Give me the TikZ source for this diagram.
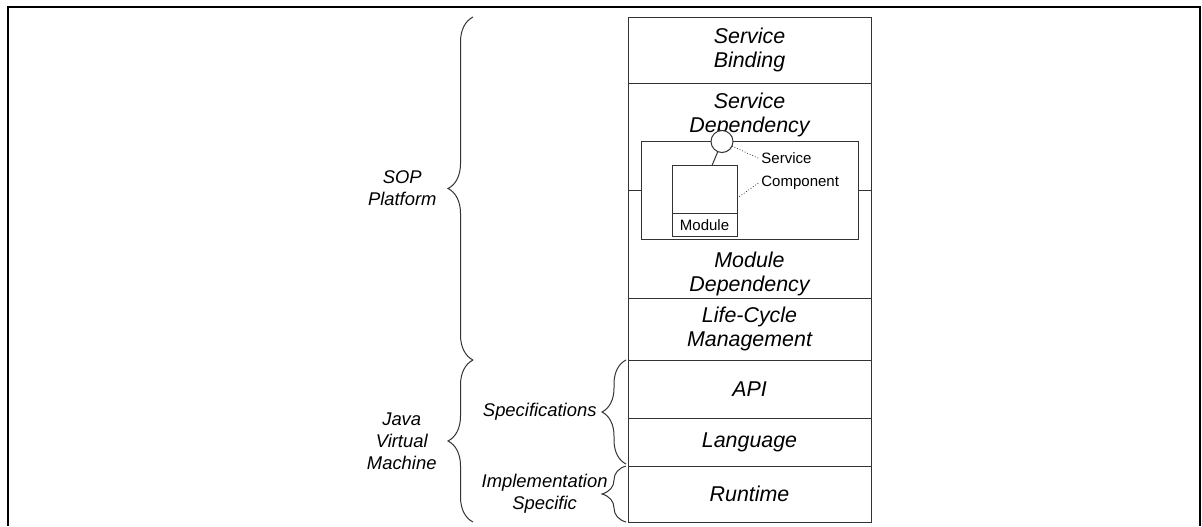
\documentclass[tikz,border=0pt]{standalone}
\usepackage{fontspec}
\setmainfont{Liberation Sans}
\usetikzlibrary{positioning,decorations.pathreplacing}

\begin{document}
\begin{tikzpicture}[x=0.5pt,y=-0.5pt,
  layer/.style={draw=black!80,line width=0.5pt,outer sep=0pt,inner sep=0pt,minimum width=121.5pt,align=center,font=\fontsize{10.7}{12}\selectfont\itshape},
  txt/.style={inner sep=0pt,align=center,font=\fontsize{10.7}{12}\selectfont\itshape},
  side/.style={inner sep=0pt,align=center,font=\fontsize{9.2}{11}\selectfont\itshape},
  small/.style={inner sep=1pt,font=\fontsize{7.5}{9}\selectfont},
  box/.style={draw=black!80,line width=0.5pt,outer sep=0pt,inner sep=0pt},
  brc/.style={decorate,decoration={brace,amplitude=12.5pt},draw=black!80,line width=0.5pt},
  lead/.style={densely dotted,draw=black!80,line width=0.4pt}]
\useasboundingbox (0,0) rectangle (1202,526);
\draw[line width=1pt] (8,526) -- (8,6.5) -- (1200,6.5) -- (1200,526);
% layer stack
\node[layer,minimum height=33pt,anchor=north] (sb) at (749.5,17) {Service\\Binding};
\node[layer,minimum height=107.5pt,below=0pt of sb] (mid) {};
\node[layer,minimum height=31pt,below=0pt of mid] (lcm) {Life-Cycle\\Management};
\node[layer,minimum height=29pt,below=0pt of lcm] (api) {API};
\node[layer,minimum height=24pt,below=0pt of api] (lang) {Language};
\node[layer,minimum height=28pt,below=0pt of lang] (rt) {Runtime};
\node[txt] (sdl) at ([yshift=-15.75pt]mid.north) {Service\\Dependency};
\node[txt] (mdl) at ([yshift=12.25pt]mid.south) {Module\\Dependency};
% service component
\node[box,minimum width=108.5pt,minimum height=49pt] (comp) at (mid.center) {};
\draw[draw=black!80,line width=0.5pt] (comp.west) -- (comp.west -| mid.west)
  (comp.east) -- (comp.east -| mid.east);
\node[box,circle,fill=white,minimum size=11pt,right=35pt of comp.north west] (svc) {};
\node[box,minimum width=32.5pt,minimum height=11.5pt,above right=1.5pt and 15.5pt of comp.south west,font=\fontsize{7.5}{9}\selectfont] (modbase) {Module};
\node[box,minimum width=32.5pt,minimum height=24pt,above=0pt of modbase] (modtop) {};
\node[small,anchor=west] (svclbl) at ([xshift=13pt,yshift=-8.5pt]svc.east) {Service};
\node[small,below=3.5pt of svclbl.south west,anchor=north west] (cmplbl) {Component};
\draw[draw=black!80,line width=0.5pt] (svc) -- ([xshift=3.75pt]modtop.north);
\draw[lead] (svc) -- (svclbl.west);
\draw[lead] (modtop.-15) -- (cmplbl.west);
% braces
\draw[brc] ([xshift=-77.5pt]lcm.south west) -- ([xshift=-77.5pt]sb.north west)
  node[midway,left=18pt,side] (sop) {SOP\\Platform};
\draw[brc] ([xshift=-77.5pt]rt.south west) -- ([xshift=-77.5pt]api.north west)
  node[midway,left=18pt,side] (jvm) {Java\\Virtual\\Machine};
\draw[brc,decoration={amplitude=12pt}] ([xshift=-1pt,yshift=1pt]lang.south west) -- ([xshift=-1pt]api.north west)
  node[midway,left=14.5pt,side] (spec) {Specifications};
\draw[brc,decoration={amplitude=12pt}] ([xshift=-1pt]rt.south west) -- ([xshift=-1pt]rt.north west)
  node[midway,left=9pt,side] (impl) {Implementation\\Specific};
\end{tikzpicture}
\end{document}
